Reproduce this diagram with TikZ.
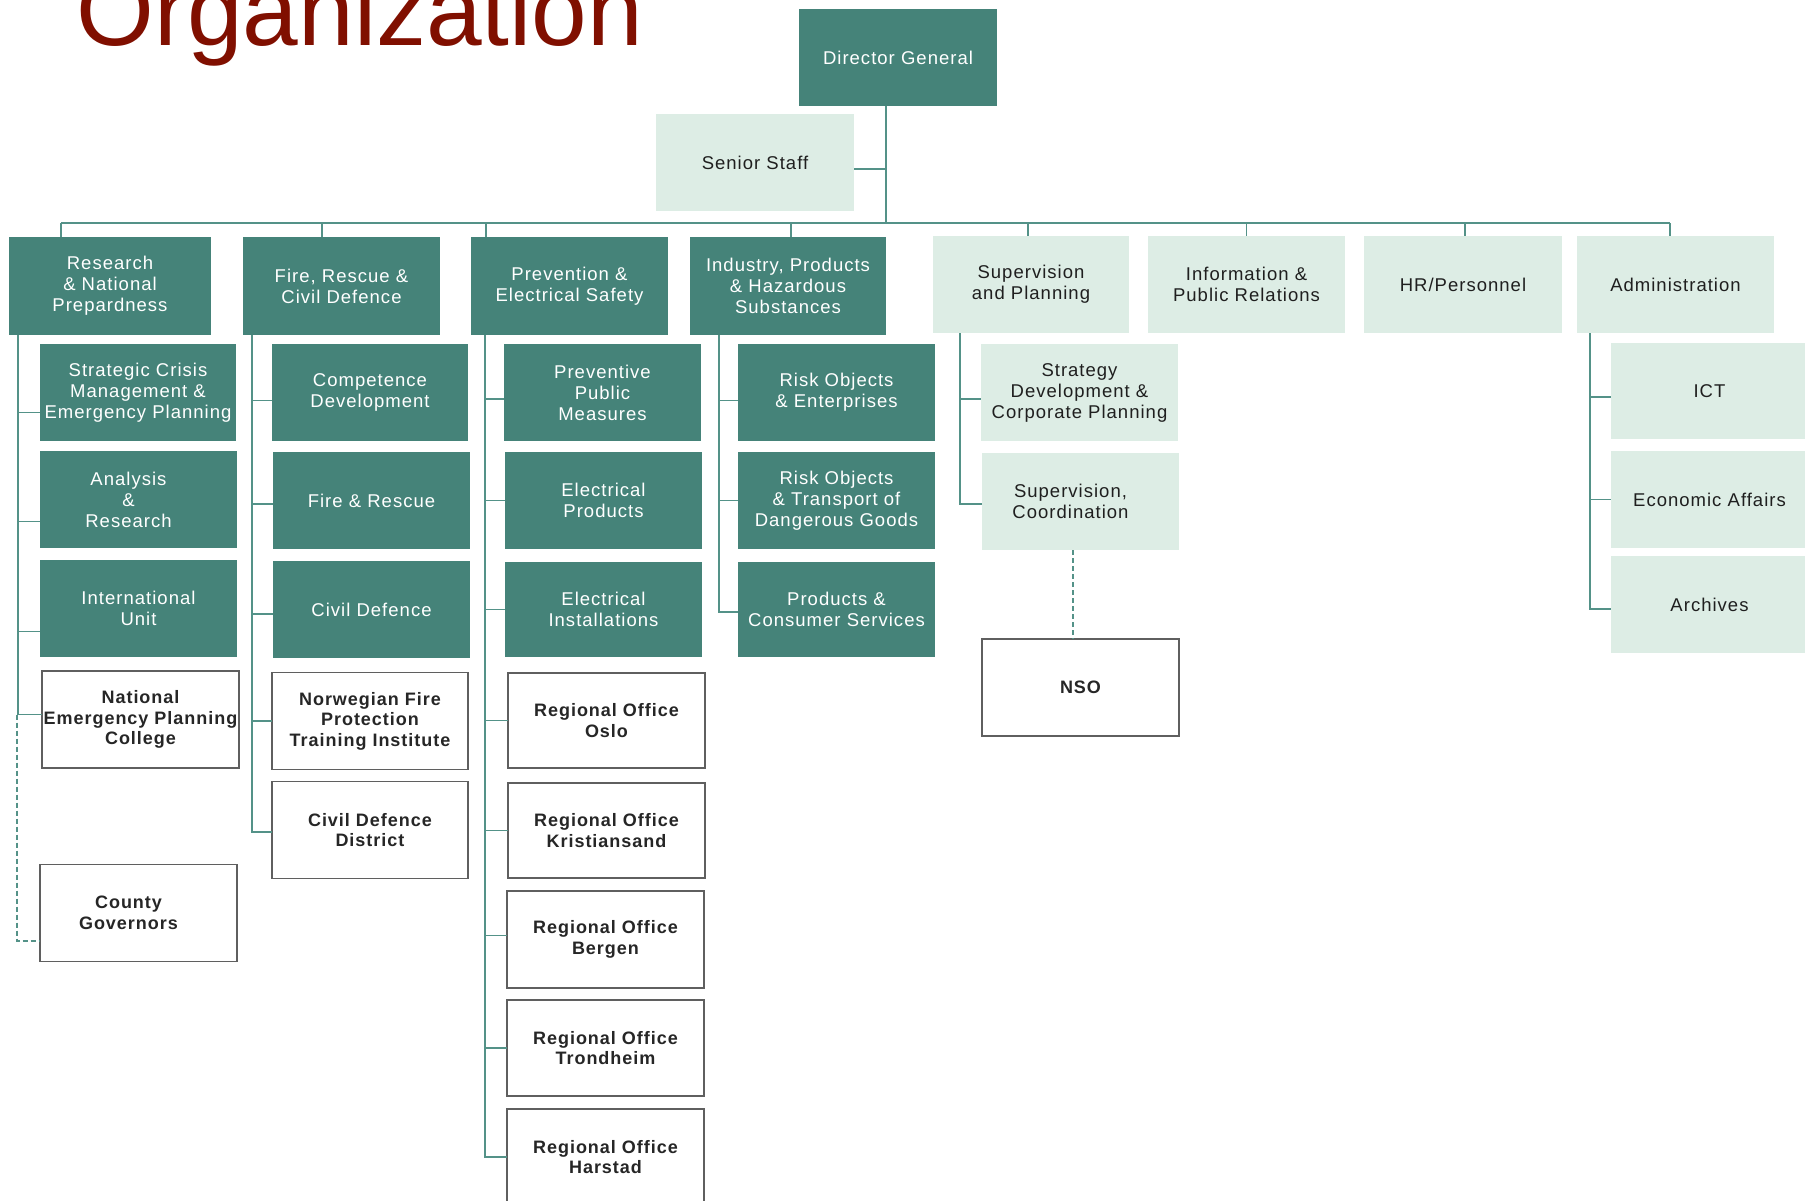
\documentclass[tikz,border=0pt]{standalone}
\usepackage{fontspec}
\setmainfont{Liberation Sans}
\newfontfamily\boxfont{Liberation Sans}[LetterSpace=5.5]
\definecolor{tealbox}{RGB}{69,131,121}
\definecolor{lightbox}{RGB}{221,237,229}
\definecolor{connc}{RGB}{84,146,136}
\definecolor{titlered}{RGB}{128,15,0}
\definecolor{plainborder}{RGB}{95,95,95}
\newcommand{\lsh}{\hspace*{-20pt}}
\tikzset{
  base/.style={inner sep=0pt, outer sep=0pt, align=center,
    minimum width=197pt, minimum height=97pt,
    font=\boxfont\fontsize{18.5}{21}\selectfont},
  dark/.style={base, fill=tealbox, text=white},
  light/.style={base, fill=lightbox, text=black!88},
  plain/.style={base, fill=white, draw=plainborder, line width=1.4pt, text=black!85,
    font=\boxfont\bfseries\fontsize{18}{20.5}\selectfont},
  conn/.style={draw=connc, line width=1.6pt},
  dconn/.style={conn, dash pattern=on 5pt off 3pt}
}
\begin{document}
\begin{tikzpicture}[x=1pt, y=-1pt]
\useasboundingbox[fill=white] (0,0) rectangle (1805,1201);

% title
\node[anchor=base west, inner sep=0pt, text=titlered, font=\fontsize{100}{100}\selectfont] (title) at (76,46) {Organization};

% top
\node[dark, minimum width=198pt] (dg) at (898,57.5) {Director General};
\node[light, minimum width=198pt] (ss) at (755,162.5) {Senior Staff};

% departments
\node[dark, minimum width=202pt, minimum height=98pt] (res) at (110,286) {Research\\ \& National\\ Prepardness};
\node[dark, minimum height=98pt] (frc) at (341.5,286) {Fire, Rescue \&\\ Civil Defence};
\node[dark, minimum height=98pt] (pes) at (569.5,286) {Prevention \&\\ Electrical Safety};
\node[dark, minimum width=196pt, minimum height=98pt] (ind) at (788,286) {Industry, Products\\ \& Hazardous\\ Substances};
\node[light, minimum width=196pt] (sp) at (1031,284.5) {Supervision\\ and Planning};
\node[light] (ipr) at (1246.5,284.5) {Information \&\\ Public Relations};
\node[light, minimum width=198pt] (hr) at (1463,284.5) {HR/Personnel};
\node[light] (adm) at (1675.5,284.5) {Administration};

% column 1
\node[dark, minimum width=196pt] (scm) at (138,392.5) {Strategic Crisis\\ Management \&\\ Emergency Planning};
\node[dark] (ana) at (138.5,499.5) {\lsh Analysis\\ \lsh\&\\ \lsh Research};
\node[dark] (int) at (138.5,608.5) {International\\ Unit};
\node[plain] (nep) at (140.5,719.5) {National\\ Emergency Planning\\ College};
\node[plain] (cg) at (138.5,913) {\lsh County\\ \lsh Governors};

% column 2
\node[dark, minimum width=196pt] (cd) at (370,392.5) {Competence\\ Development};
\node[dark] (fr) at (371.5,500.5) {Fire \& Rescue};
\node[dark] (civ) at (371.5,609.5) {Civil Defence};
\node[plain, minimum width=196pt] (nft) at (370,721) {Norwegian Fire\\ Protection\\ Training Institute};
\node[plain, minimum width=196pt] (cdd) at (370,830) {Civil Defence\\ District};

% column 3
\node[dark] (ppm) at (602.5,392.5) {Preventive\\ Public\\ Measures};
\node[dark] (ep) at (603.5,500.5) {Electrical\\ Products};
\node[dark, minimum height=95pt] (ei) at (603.5,609.5) {Electrical\\ Installations};
\node[plain, minimum height=95pt] (osl) at (606.5,720.5) {Regional Office\\ Oslo};
\node[plain, minimum height=95pt] (kri) at (606.5,830.5) {Regional Office\\ Kristiansand};
\node[plain] (ber) at (605.5,939.5) {Regional Office\\ Bergen};
\node[plain, minimum height=96pt] (tro) at (605.5,1048) {Regional Office\\ Trondheim};
\node[plain, minimum height=96pt] (har) at (605.5,1157) {Regional Office\\ Harstad};

% column 4
\node[dark] (roe) at (836.5,392.5) {Risk Objects\\ \& Enterprises};
\node[dark] (rot) at (836.5,500.5) {Risk Objects\\ \& Transport of\\ Dangerous Goods};
\node[dark, minimum height=95pt] (pcs) at (836.5,609.5) {Products \&\\ Consumer Services};

% column 5
\node[light] (sdc) at (1079.5,392.5) {Strategy\\ Development \&\\ Corporate Planning};
\node[light] (sco) at (1080.5,501.5) {\lsh Supervision,\\ \lsh Coordination};
\node[plain] (nso) at (1080.5,687.5) {NSO};

% column 8
\node[light, minimum height=96pt] (ict) at (1709.5,391) {ICT};
\node[light] (eco) at (1709.5,499.5) {Economic Affairs};
\node[light] (arc) at (1709.5,604.5) {Archives};

% connectors: top
\coordinate (busL) at (61,223);
\coordinate (busR) at (1670,223);
\draw[conn] ([xshift=-12pt]dg.south) -- ([xshift=-12pt]dg.south |- busL);
\draw[conn] ([yshift=-6.5pt]ss.east) -- ([xshift=-12pt,yshift=-6.5pt]dg.south |- ss.east);
\draw[conn] (busL) -- (busR);
\draw[conn] ([xshift=52pt]res.north west) -- ([xshift=52pt]res.north west |- busL);
\draw[conn] ([xshift=79pt]frc.north west) -- ([xshift=79pt]frc.north west |- busL);
\draw[conn] ([xshift=15pt]pes.north west) -- ([xshift=15pt]pes.north west |- busL);
\draw[conn] ([xshift=101pt]ind.north west) -- ([xshift=101pt]ind.north west |- busL);
\draw[conn] ([xshift=-3pt]sp.north) -- ([xshift=-3pt]sp.north |- busL);
\draw[conn] (ipr.north) -- (ipr.north |- busL);
\draw[conn] ([xshift=2pt]hr.north) -- ([xshift=2pt]hr.north |- busL);
\draw[conn] ([xshift=-5.5pt]adm.north) -- (busR);

% column 1
\draw[conn] ([xshift=9pt]res.south west) |- ([yshift=-20pt]scm.west);
\draw[conn] ([xshift=9pt]res.south west) |- ([yshift=-22pt]ana.west);
\draw[conn] ([xshift=9pt]res.south west) |- ([yshift=-23pt]int.west);
\draw[conn] ([xshift=9pt]res.south west) |- ([yshift=5pt]nep.west);
\draw[dconn] ([xshift=8pt,yshift=5pt]res.south west |- nep.west) |- ([yshift=-28pt]cg.west);

% column 2
\draw[conn] ([xshift=9pt]frc.south west) |- ([yshift=-8pt]cd.west);
\draw[conn] ([xshift=9pt]frc.south west) |- ([yshift=-3.5pt]fr.west);
\draw[conn] ([xshift=9pt]frc.south west) |- ([yshift=-4.5pt]civ.west);
\draw[conn] ([xshift=9pt]frc.south west) |- (nft.west);
\draw[conn] ([xshift=9pt]frc.south west) |- ([yshift=-2pt]cdd.west);

% column 3
\draw[conn] ([xshift=14pt]pes.south west) |- ([yshift=-6.5pt]ppm.west);
\draw[conn] ([xshift=14pt]pes.south west) |- (ep.west);
\draw[conn] ([xshift=14pt]pes.south west) |- (ei.west);
\draw[conn] ([xshift=14pt]pes.south west) |- (osl.west);
\draw[conn] ([xshift=14pt]pes.south west) |- (kri.west);
\draw[conn] ([xshift=14pt]pes.south west) |- ([yshift=4pt]ber.west);
\draw[conn] ([xshift=14pt]pes.south west) |- (tro.west);
\draw[conn] ([xshift=14pt]pes.south west) |- (har.west);

% column 4
\draw[conn] ([xshift=29pt]ind.south west) |- ([yshift=-8pt]roe.west);
\draw[conn] ([xshift=29pt]ind.south west) |- (rot.west);
\draw[conn] ([xshift=29pt]ind.south west) |- ([yshift=-2.5pt]pcs.west);

% column 5
\draw[conn] ([xshift=27pt]sp.south west) |- ([yshift=-6.5pt]sdc.west);
\draw[conn] ([xshift=27pt]sp.south west) |- ([yshift=-2.5pt]sco.west);
\draw[dconn] ([xshift=-7.5pt]sco.south) -- ([xshift=-7.5pt]nso.north);

% column 8
\draw[conn] ([xshift=13pt]adm.south west) |- ([yshift=-6pt]ict.west);
\draw[conn] ([xshift=13pt]adm.south west) |- (eco.west);
\draw[conn] ([xshift=13pt]adm.south west) |- ([yshift=-4.5pt]arc.west);
\end{tikzpicture}
\end{document}
